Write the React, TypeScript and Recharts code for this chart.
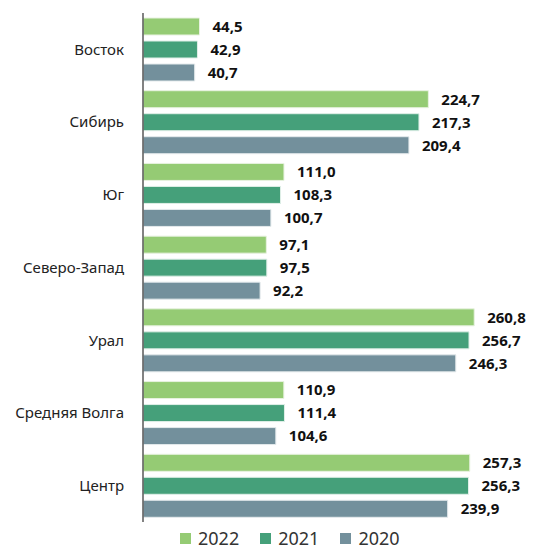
import { BarChart, Bar, XAxis, YAxis, Legend, LabelList } from 'recharts';

const regions = ['Восток', 'Сибирь', 'Юг', 'Северо-Запад', 'Урал', 'Средняя Волга', 'Центр'];
const values2022 = [44.5, 224.7, 111.0, 97.1, 260.8, 110.9, 257.3];
const values2021 = [42.9, 217.3, 108.3, 97.5, 256.7, 111.4, 256.3];
const values2020 = [40.7, 209.4, 100.7, 92.2, 246.3, 104.6, 239.9];

const series = [
  { key: 'y2022', name: '2022', color: '#95CB74', edge: '#e8f2e0' },
  { key: 'y2021', name: '2021', color: '#45A07A', edge: '#e0efe8' },
  { key: 'y2020', name: '2020', color: '#73909C', edge: '#e4eaec' },
];

const data = regions.map((name, i) => ({
  name,
  y2022: values2022[i],
  y2021: values2021[i],
  y2020: values2020[i],
}));

const fmt = (v: number) => v.toFixed(1).replace('.', ',');

const font = '"Noto Sans", sans-serif';
const labelStyle = { fontFamily: font, fontSize: 15, fontWeight: 700, fill: '#111' };

const LegendBox = () => (
  <div style={{ display: 'flex', justifyContent: 'flex-start', paddingLeft: 172, fontFamily: font, fontSize: 18, lineHeight: '22px', color: '#333' }}>
    {series.map((s) => (
      <div key={s.key} style={{ display: 'flex', alignItems: 'center', marginRight: 21 }}>
        <span style={{ display: 'inline-block', width: 11, height: 11, background: s.color, marginRight: 7 }} />
        <span>{s.name}</span>
      </div>
    ))}
  </div>
);

export default function App() {
  return (
    <div style={{ width: 526, height: 542, fontFamily: font }}>
      <BarChart
        width={526}
        height={542}
        data={data}
        layout="vertical"
        margin={{ top: 5, right: 10, bottom: 4, left: 0 }}
        barSize={17}
        barGap={6}
      >
        <XAxis type="number" domain={[0, 300]} hide />
        <YAxis
          type="category"
          dataKey="name"
          width={135}
          tickLine={false}
          axisLine={{ stroke: '#595959', strokeWidth: 1.5 }}
          tickMargin={13}
          tick={{ fontFamily: font, fontSize: 15, fill: '#222' }}
        />
        <Legend
          verticalAlign="bottom"
          height={24}
          content={<LegendBox />}
          wrapperStyle={{ top: 519, left: 0, width: 526 }}
        />
        {series.map((s) => (
          <Bar
            key={s.key}
            dataKey={s.key}
            name={s.name}
            fill={s.color}
            stroke={s.edge}
            strokeWidth={1}
            isAnimationActive={false}
          >
            <LabelList dataKey={s.key} position="right" offset={13} formatter={fmt} style={labelStyle} />
          </Bar>
        ))}
      </BarChart>
    </div>
  );
}
